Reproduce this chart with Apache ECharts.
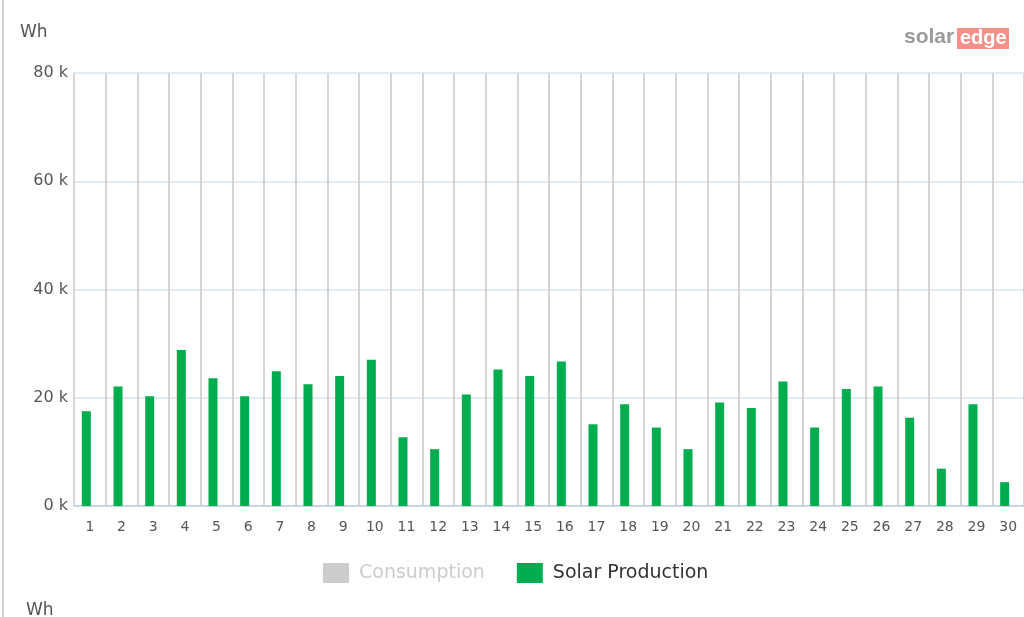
<!DOCTYPE html>
<html>
<head>
<meta charset="utf-8">
<script src="https://cdn.jsdelivr.net/npm/echarts@6/dist/echarts.min.js"></script>
<style>
html,body{margin:0;padding:0;background:#fff;}
#c{width:1024px;height:617px;}
</style>
</head>
<body>
<div id="c"></div>
<script>
const days = ['1','2','3','4','5','6','7','8','9','10','11','12','13','14','15','16','17','18','19','20','21','22','23','24','25','26','27','28','29','30'];
const solarProduction = [17500,22100,20300,28800,23600,20300,24900,22500,24000,27000,12700,10500,20600,25200,24000,26700,15100,18800,14500,10500,19100,18100,23000,14500,21600,22100,16300,6900,18800,4400];
const consumption = days.map(() => null);
const yTicks = [0,20000,40000,60000,80000];

const font = 'DejaVu Sans';
const chart = echarts.init(document.getElementById('c'));
chart.setOption({
  animation: false,
  backgroundColor: '#fff',
  grid: {left: 74, right: -2, top: 73, bottom: 111, containLabel: false},
  legend: {
    data: [
      {name: 'Consumption', textStyle: {color: '#cccccc'}},
      {name: 'Solar Production', textStyle: {color: '#333333'}}
    ],
    left: 318, top: 558,
    itemWidth: 26, itemHeight: 20, itemGap: 32,
    icon: 'rect',
    selectedMode: false,
    textStyle: {fontFamily: font, fontSize: 19, color: '#333', padding: [0, 0, 0, 5]}
  },
  xAxis: {
    type: 'category', data: days,
    axisLine: {lineStyle: {color: '#c0d0e0', width: 1.5}},
    axisTick: {length: 14, lineStyle: {color: '#c0c8d0', width: 1.5}},
    axisLabel: {color: '#555', fontFamily: font, fontSize: 14, margin: 14},
    splitLine: {show: true, lineStyle: {color: '#c8c8c8', width: 1.5}}
  },
  yAxis: {
    type: 'value', min: yTicks[0], max: yTicks[yTicks.length-1], interval: 20000,
    axisLine: {show: false}, axisTick: {show: false},
    axisLabel: {color: '#555', fontFamily: font, fontSize: 16, margin: 6, padding: [5, 0, 0, 0],
      formatter: v => (v/1000) + ' k'},
    splitLine: {lineStyle: {color: '#d8e4ec', width: 1.5}}
  },
  series: [
    {name: 'Solar Production', type: 'bar', data: solarProduction, barWidth: 9, barGap: '-22%',
     itemStyle: {color: '#00ad4e'}},
    {name: 'Consumption', type: 'bar', data: consumption, barWidth: 9,
     itemStyle: {color: '#cccccc'}}
  ],
  graphic: [
    {type: 'line', shape: {x1: 3, y1: 0, x2: 3, y2: 617}, style: {stroke: '#d6d6d6', lineWidth: 2}},
    {type: 'text', left: 20, top: 24, style: {text: 'Wh', fill: '#555', font: '17px "DejaVu Sans"'}},
    {type: 'text', left: 26, top: 602, style: {text: 'Wh', fill: '#555', font: '17px "DejaVu Sans"'}},
    {type: 'text', left: 904, top: 27, style: {text: 'solar', fill: '#9a9a9a', font: 'bold 21px "Liberation Sans"'}},
    {type: 'rect', shape: {x: 957, y: 28, width: 52, height: 21}, style: {fill: '#f4908a'}},
    {type: 'text', left: 960, top: 28, style: {text: 'edge', fill: '#ffffff', font: 'bold 20px "Liberation Sans"'}}
  ]
});
</script>
</body>
</html>
